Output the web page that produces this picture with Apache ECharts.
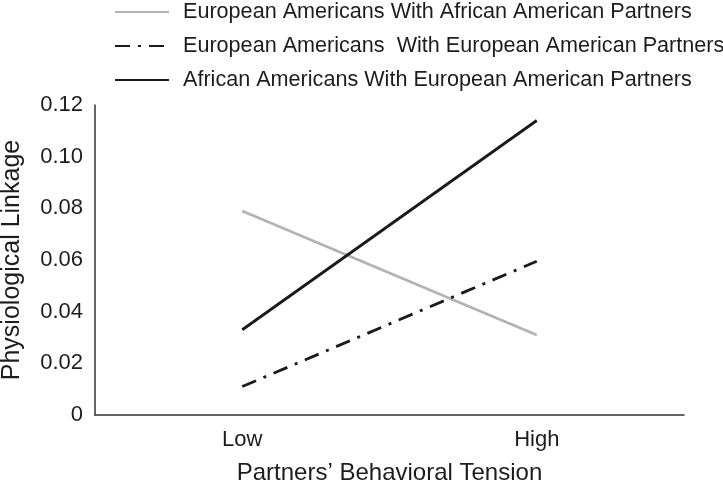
<!DOCTYPE html>
<html>
<head>
<meta charset="utf-8">
<script src="https://cdn.jsdelivr.net/npm/echarts@6/dist/echarts.min.js"></script>
<style>html,body{margin:0;padding:0;background:#fff}#c{width:723px;height:487px}</style>
</head>
<body>
<div id="c"></div>
<script>
const categories = ['Low', 'High'];
const seriesNames = [
  'European Americans With African American Partners',
  'European Americans  With European American Partners',
  'African Americans With European American Partners'
];
const euroWithAfrican = [0.079, 0.031];
const euroWithEuro = [0.011, 0.0595];
const africanWithEuro = [0.033, 0.114];
const yTicks = [0, 0.02, 0.04, 0.06, 0.08, 0.10, 0.12];

const FONT = '"Liberation Sans", Arial, sans-serif';
const TXT = '#1e1c1d';

const chart = echarts.init(document.getElementById('c'));
chart.setOption({
  animation: false,
  textStyle: { fontFamily: FONT },
  grid: { left: 95, right: 39, top: 105, bottom: 72, containLabel: false, outerBoundsMode: 'none' },
  legend: {
    orient: 'vertical',
    left: 114, top: 1, padding: 0,
    itemWidth: 54, itemHeight: 14, itemGap: 12,
    itemStyle: { opacity: 0 },
    textStyle: { fontFamily: FONT, fontSize: 21.6, color: TXT, padding: [0, 0, 0, 9] },
    data: seriesNames
  },
  xAxis: {
    type: 'category',
    data: categories,
    boundaryGap: true,
    axisLine: { lineStyle: { color: '#333', width: 1.5 } },
    axisTick: { show: false },
    axisLabel: { fontFamily: FONT, fontSize: 22, color: TXT, margin: 14 },
    name: 'Partners\u2019 Behavioral Tension',
    nameLocation: 'middle', nameGap: 46,
    nameTextStyle: { fontFamily: FONT, fontSize: 24, color: TXT }
  },
  yAxis: {
    type: 'value',
    min: 0, max: 0.12, interval: 0.02,
    splitLine: { show: false },
    axisLine: { show: true, lineStyle: { color: '#333', width: 1.5 } },
    axisTick: { show: false },
    axisLabel: {
      fontFamily: FONT, fontSize: 22, color: TXT, margin: 12,
      formatter: v => { const m = yTicks.find(t => Math.abs(t - v) < 1e-9); return m === 0 ? '0' : v.toFixed(2); }
    },
    name: 'Physiological Linkage',
    nameLocation: 'middle', nameGap: 70,
    nameTextStyle: { fontFamily: FONT, fontSize: 25, color: TXT }
  },
  series: [
    { name: seriesNames[0], type: 'line', data: euroWithAfrican, symbol: 'none',
      lineStyle: { color: '#b3b3b3', width: 2.8 }, itemStyle: { color: '#b3b3b3' } },
    { name: seriesNames[1], type: 'line', data: euroWithEuro, symbol: 'none',
      lineStyle: { color: '#1a1a1a', width: 2.8, type: [15, 8, 3, 8] }, itemStyle: { color: '#1a1a1a' } },
    { name: seriesNames[2], type: 'line', data: africanWithEuro, symbol: 'none',
      lineStyle: { color: '#1a1a1a', width: 2.8 }, itemStyle: { color: '#1a1a1a' } }
  ]
});
</script>
</body>
</html>
